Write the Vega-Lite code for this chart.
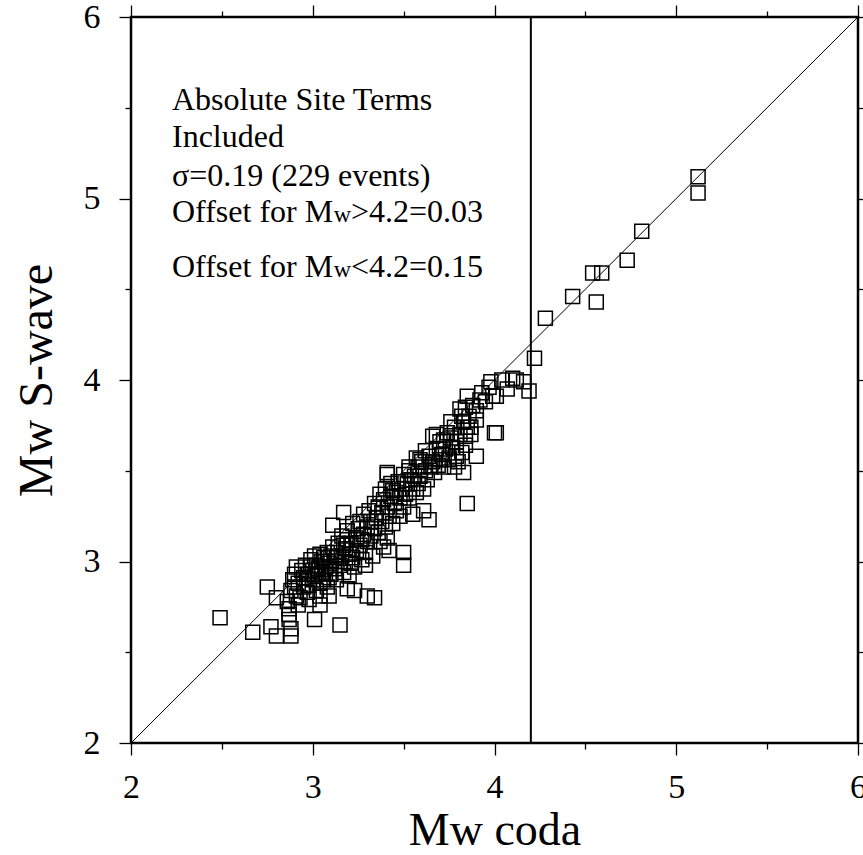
{
  "$schema": "https://vega.github.io/schema/vega-lite/v6.json",
  "width": 727,
  "height": 726,
  "autosize": {"type": "none"},
  "padding": {"left": 131, "top": 17, "right": 5, "bottom": 112},
  "background": "white",
  "config": {
    "view": {"stroke": "black", "strokeWidth": 2.5},
    "axis": {
      "domain": false,
      "grid": false,
      "tickColor": "black",
      "tickWidth": 1.3,
      "labelFont": "Liberation Serif",
      "labelFontSize": 34,
      "labelColor": "black",
      "labelFlush": false,
      "labelOverlap": false,
      "labelBound": false,
      "titleFont": "Liberation Serif",
      "titleFontWeight": "normal",
      "titleColor": "black"
    }
  },
  "resolve": {"axis": {"x": "independent", "y": "independent"}},
  "layer": [
    {
      "data": {"values": [{"cx": 2, "cy": 2}, {"cx": 6, "cy": 6}]},
      "mark": {"type": "line", "color": "black", "strokeWidth": 1},
      "encoding": {
        "x": {"field": "cx", "type": "quantitative", "scale": {"domain": [2, 6], "nice": false, "zero": false},
          "axis": {"orient": "top", "values": [2, 2.5, 3, 3.5, 4, 4.5, 5, 5.5, 6], "labels": false, "title": null,
            "tickSize": {"condition": {"test": "datum.value % 1 === 0", "value": 12}, "value": 6}}},
        "y": {"field": "cy", "type": "quantitative", "scale": {"domain": [2, 6], "nice": false, "zero": false},
          "axis": {"orient": "right", "values": [2, 2.5, 3, 3.5, 4, 4.5, 5, 5.5, 6], "labels": false, "title": null,
            "tickSize": {"condition": {"test": "datum.value % 1 === 0", "value": 12}, "value": 6}}}
      }
    },
    {
      "data": {"values": [{"threshold": 4.2}]},
      "mark": {"type": "rule", "color": "black", "strokeWidth": 2},
      "encoding": {
        "x": {"field": "threshold", "type": "quantitative", "axis": null}
      }
    },
    {
      "data": {"values": [
        {"coda": 2.49, "swave": 2.69}, {"coda": 2.67, "swave": 2.61}, {"coda": 2.77, "swave": 2.64}, {"coda": 2.80, "swave": 2.59},
        {"coda": 2.88, "swave": 2.59}, {"coda": 2.88, "swave": 2.63}, {"coda": 2.87, "swave": 2.68}, {"coda": 2.87, "swave": 2.71},
        {"coda": 3.01, "swave": 2.68}, {"coda": 3.15, "swave": 2.65}, {"coda": 2.75, "swave": 2.86}, {"coda": 2.80, "swave": 2.80},
        {"coda": 2.91, "swave": 2.81}, {"coda": 2.90, "swave": 2.86}, {"coda": 2.98, "swave": 2.79}, {"coda": 3.04, "swave": 2.81},
        {"coda": 3.09, "swave": 2.81}, {"coda": 3.19, "swave": 2.85}, {"coda": 3.23, "swave": 2.84}, {"coda": 3.30, "swave": 2.81},
        {"coda": 3.34, "swave": 2.80}, {"coda": 3.50, "swave": 3.05}, {"coda": 3.50, "swave": 2.98}, {"coda": 3.42, "swave": 3.06},
        {"coda": 3.85, "swave": 3.32}, {"coda": 3.64, "swave": 3.23}, {"coda": 3.61, "swave": 3.28}, {"coda": 3.55, "swave": 3.26},
        {"coda": 3.17, "swave": 3.27}, {"coda": 3.11, "swave": 3.20}, {"coda": 3.41, "swave": 3.48}, {"coda": 3.41, "swave": 3.13},
        {"coda": 4.19, "swave": 3.94}, {"coda": 4.16, "swave": 3.99}, {"coda": 4.12, "swave": 4.00}, {"coda": 4.10, "swave": 4.01},
        {"coda": 4.07, "swave": 3.95}, {"coda": 4.04, "swave": 4.00}, {"coda": 3.98, "swave": 3.99}, {"coda": 4.01, "swave": 3.91},
        {"coda": 3.99, "swave": 3.91}, {"coda": 3.92, "swave": 3.89}, {"coda": 3.85, "swave": 3.91}, {"coda": 3.84, "swave": 3.85},
        {"coda": 3.90, "swave": 3.83}, {"coda": 3.82, "swave": 3.80}, {"coda": 3.76, "swave": 3.77}, {"coda": 3.85, "swave": 3.74},
        {"coda": 3.87, "swave": 3.74}, {"coda": 4.01, "swave": 3.71}, {"coda": 4.00, "swave": 3.71}, {"coda": 3.66, "swave": 3.69},
        {"coda": 3.76, "swave": 3.68}, {"coda": 3.84, "swave": 3.69}, {"coda": 3.90, "swave": 3.58}, {"coda": 3.79, "swave": 3.58},
        {"coda": 3.75, "swave": 3.56}, {"coda": 3.70, "swave": 3.56}, {"coda": 3.59, "swave": 3.56}, {"coda": 3.53, "swave": 3.52},
        {"coda": 3.83, "swave": 3.49}, {"coda": 3.41, "swave": 3.49},
        {"coda": 5.12, "swave": 5.12}, {"coda": 5.12, "swave": 5.03}, {"coda": 4.81, "swave": 4.82}, {"coda": 4.73, "swave": 4.66},
        {"coda": 4.54, "swave": 4.59}, {"coda": 4.59, "swave": 4.59}, {"coda": 4.56, "swave": 4.43}, {"coda": 4.43, "swave": 4.46},
        {"coda": 4.28, "swave": 4.34}, {"coda": 4.22, "swave": 4.12},
        {"coda": 2.86, "swave": 2.78}, {"coda": 2.88, "swave": 2.84}, {"coda": 2.89, "swave": 2.90}, {"coda": 2.90, "swave": 2.93},
        {"coda": 2.92, "swave": 2.88}, {"coda": 2.93, "swave": 2.80}, {"coda": 2.94, "swave": 2.95}, {"coda": 2.95, "swave": 2.86},
        {"coda": 2.92, "swave": 2.76}, {"coda": 2.87, "swave": 2.74}, {"coda": 2.91, "swave": 2.97}, {"coda": 2.95, "swave": 2.91},
        {"coda": 2.96, "swave": 2.98}, {"coda": 2.97, "swave": 2.93}, {"coda": 2.98, "swave": 2.87}, {"coda": 2.99, "swave": 3.01},
        {"coda": 3.00, "swave": 2.95}, {"coda": 3.00, "swave": 2.90}, {"coda": 3.01, "swave": 3.03}, {"coda": 3.02, "swave": 2.84},
        {"coda": 3.02, "swave": 2.98}, {"coda": 3.03, "swave": 2.93}, {"coda": 3.04, "swave": 3.04}, {"coda": 3.04, "swave": 2.88},
        {"coda": 3.05, "swave": 3.00}, {"coda": 2.97, "swave": 2.83}, {"coda": 3.03, "swave": 2.96}, {"coda": 2.99, "swave": 2.97},
        {"coda": 3.01, "swave": 2.92}, {"coda": 3.05, "swave": 2.94}, {"coda": 3.04, "swave": 2.76},
        {"coda": 3.06, "swave": 3.02}, {"coda": 3.06, "swave": 2.90}, {"coda": 3.07, "swave": 2.97}, {"coda": 3.08, "swave": 3.05},
        {"coda": 3.08, "swave": 2.86}, {"coda": 3.09, "swave": 2.99}, {"coda": 3.10, "swave": 3.03}, {"coda": 3.10, "swave": 2.93},
        {"coda": 3.11, "swave": 3.08}, {"coda": 3.12, "swave": 2.96}, {"coda": 3.12, "swave": 3.00}, {"coda": 3.13, "swave": 2.90},
        {"coda": 3.14, "swave": 3.05}, {"coda": 3.14, "swave": 3.10}, {"coda": 3.15, "swave": 2.98}, {"coda": 3.07, "swave": 2.93},
        {"coda": 3.09, "swave": 2.91}, {"coda": 3.13, "swave": 3.02},
        {"coda": 3.16, "swave": 3.03}, {"coda": 3.16, "swave": 3.14}, {"coda": 3.17, "swave": 2.94}, {"coda": 3.18, "swave": 3.07},
        {"coda": 3.18, "swave": 3.00}, {"coda": 3.19, "swave": 3.17}, {"coda": 3.20, "swave": 3.04}, {"coda": 3.20, "swave": 2.92},
        {"coda": 3.21, "swave": 3.10}, {"coda": 3.22, "swave": 3.02}, {"coda": 3.22, "swave": 3.21}, {"coda": 3.23, "swave": 2.97},
        {"coda": 3.24, "swave": 3.13}, {"coda": 3.24, "swave": 3.06}, {"coda": 3.25, "swave": 3.18}, {"coda": 3.17, "swave": 3.09},
        {"coda": 3.21, "swave": 2.99}, {"coda": 3.19, "swave": 3.12},
        {"coda": 3.26, "swave": 3.09}, {"coda": 3.26, "swave": 3.22}, {"coda": 3.27, "swave": 3.01}, {"coda": 3.28, "swave": 3.15},
        {"coda": 3.28, "swave": 3.26}, {"coda": 3.29, "swave": 3.05}, {"coda": 3.30, "swave": 3.19}, {"coda": 3.30, "swave": 3.11},
        {"coda": 3.31, "swave": 3.28}, {"coda": 3.32, "swave": 3.14}, {"coda": 3.32, "swave": 3.22}, {"coda": 3.33, "swave": 3.03},
        {"coda": 3.34, "swave": 3.18}, {"coda": 3.34, "swave": 3.32}, {"coda": 3.35, "swave": 3.24}, {"coda": 3.27, "swave": 3.12},
        {"coda": 3.29, "swave": 2.98},
        {"coda": 3.36, "swave": 3.30}, {"coda": 3.36, "swave": 3.16}, {"coda": 3.37, "swave": 3.37}, {"coda": 3.38, "swave": 3.22},
        {"coda": 3.38, "swave": 3.27}, {"coda": 3.39, "swave": 3.34}, {"coda": 3.40, "swave": 3.19}, {"coda": 3.40, "swave": 3.40},
        {"coda": 3.41, "swave": 3.30}, {"coda": 3.42, "swave": 3.25}, {"coda": 3.43, "swave": 3.36}, {"coda": 3.43, "swave": 3.43},
        {"coda": 3.44, "swave": 3.21}, {"coda": 3.45, "swave": 3.32}, {"coda": 3.37, "swave": 3.11}, {"coda": 3.39, "swave": 3.08},
        {"coda": 3.44, "swave": 3.39},
        {"coda": 3.46, "swave": 3.38}, {"coda": 3.46, "swave": 3.28}, {"coda": 3.47, "swave": 3.44}, {"coda": 3.48, "swave": 3.35},
        {"coda": 3.49, "swave": 3.40}, {"coda": 3.50, "swave": 3.48}, {"coda": 3.50, "swave": 3.30}, {"coda": 3.51, "swave": 3.37},
        {"coda": 3.52, "swave": 3.43}, {"coda": 3.53, "swave": 3.35}, {"coda": 3.54, "swave": 3.45}, {"coda": 3.55, "swave": 3.40},
        {"coda": 3.48, "swave": 3.25}, {"coda": 3.53, "swave": 3.50},
        {"coda": 3.56, "swave": 3.47}, {"coda": 3.57, "swave": 3.38}, {"coda": 3.58, "swave": 3.52}, {"coda": 3.58, "swave": 3.43},
        {"coda": 3.59, "swave": 3.47}, {"coda": 3.60, "swave": 3.55}, {"coda": 3.61, "swave": 3.40}, {"coda": 3.62, "swave": 3.50},
        {"coda": 3.63, "swave": 3.45}, {"coda": 3.64, "swave": 3.58}, {"coda": 3.65, "swave": 3.52}, {"coda": 3.57, "swave": 3.57},
        {"coda": 3.62, "swave": 3.61},
        {"coda": 3.66, "swave": 3.55}, {"coda": 3.67, "swave": 3.49}, {"coda": 3.68, "swave": 3.62}, {"coda": 3.69, "swave": 3.53},
        {"coda": 3.70, "swave": 3.66}, {"coda": 3.71, "swave": 3.59}, {"coda": 3.72, "swave": 3.52}, {"coda": 3.73, "swave": 3.62},
        {"coda": 3.74, "swave": 3.71}, {"coda": 3.75, "swave": 3.57}, {"coda": 3.68, "swave": 3.70}, {"coda": 3.72, "swave": 3.67},
        {"coda": 3.77, "swave": 3.63}, {"coda": 3.78, "swave": 3.74}, {"coda": 3.79, "swave": 3.66}, {"coda": 3.80, "swave": 3.55},
        {"coda": 3.81, "swave": 3.70}, {"coda": 3.82, "swave": 3.60}, {"coda": 3.83, "swave": 3.77}, {"coda": 3.84, "swave": 3.64},
        {"coda": 3.78, "swave": 3.52}, {"coda": 3.81, "swave": 3.84},
        {"coda": 3.86, "swave": 3.80}, {"coda": 3.88, "swave": 3.86}, {"coda": 3.90, "swave": 3.78}, {"coda": 3.93, "swave": 3.93},
        {"coda": 3.95, "swave": 3.88}, {"coda": 3.97, "swave": 3.96}, {"coda": 3.87, "swave": 3.70}
      ]},
      "mark": {"type": "point", "shape": "square", "filled": false, "stroke": "black", "strokeWidth": 1.5, "size": 196, "opacity": 1},
      "encoding": {
        "x": {"field": "coda", "type": "quantitative",
          "axis": {"orient": "bottom", "values": [2, 2.5, 3, 3.5, 4, 4.5, 5, 5.5, 6],
            "labelExpr": "datum.value % 1 === 0 ? format(datum.value, 'd') : ''",
            "labelFont": "Liberation Serif", "labelFontSize": 34,
            "tickSize": {"condition": {"test": "datum.value % 1 === 0", "value": 12}, "value": 6},
            "labelPadding": 15, "title": "Mw coda", "titleFontSize": 46, "titlePadding": 4}},
        "y": {"field": "swave", "type": "quantitative",
          "axis": {"orient": "left", "values": [2, 2.5, 3, 3.5, 4, 4.5, 5, 5.5, 6],
            "labelExpr": "datum.value % 1 === 0 ? format(datum.value, 'd') : ''",
            "labelFont": "Liberation Serif", "labelFontSize": 34,
            "tickSize": {"condition": {"test": "datum.value % 1 === 0", "value": 12}, "value": 6},
            "labelPadding": 19, "title": "Mw S-wave", "titleFontSize": 48, "titlePadding": 22}}
      }
    },
    {
      "data": {"values": [
        {"tx": 2.2256, "ty": 5.4876, "label": "Absolute Site Terms", "part": "main"},
        {"tx": 2.2256, "ty": 5.2837, "label": "Included", "part": "main"},
        {"tx": 2.2256, "ty": 5.069, "label": "σ=0.19 (229 events)", "part": "main"},
        {"tx": 2.2256, "ty": 4.8705, "label": "Offset for M", "part": "main"},
        {"tx": 3.1153, "ty": 4.8705, "label": "w", "part": "sub"},
        {"tx": 3.2105, "ty": 4.8705, "label": ">4.2=0.03", "part": "main"},
        {"tx": 2.2256, "ty": 4.5675, "label": "Offset for M", "part": "main"},
        {"tx": 3.1153, "ty": 4.5675, "label": "w", "part": "sub"},
        {"tx": 3.2105, "ty": 4.5675, "label": "<4.2=0.15", "part": "main"}
      ]},
      "mark": {"type": "text", "align": "left", "baseline": "alphabetic", "font": "Liberation Serif", "color": "black"},
      "encoding": {
        "x": {"field": "tx", "type": "quantitative", "axis": null},
        "y": {"field": "ty", "type": "quantitative", "axis": null},
        "text": {"field": "label"},
        "size": {"field": "part", "type": "nominal", "scale": {"domain": ["main", "sub"], "range": [32, 24]}, "legend": null}
      }
    }
  ]
}
